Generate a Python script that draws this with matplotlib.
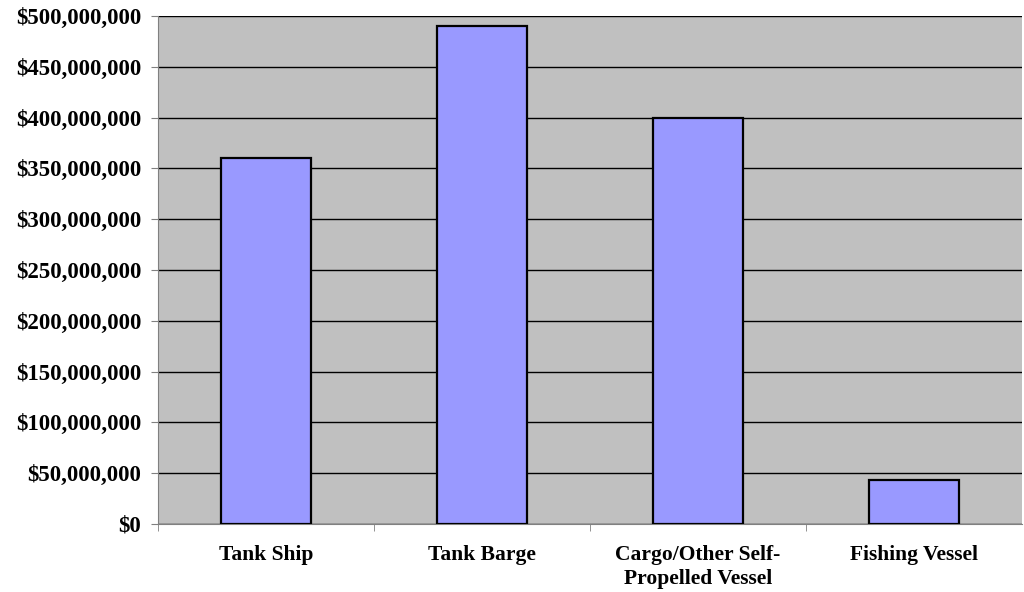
import matplotlib.pyplot as plt
from matplotlib.ticker import FuncFormatter, FixedLocator

# Vessel categories and values (dollars)
categories = ["Tank Ship", "Tank Barge", "Cargo/Other Self-\nPropelled Vessel", "Fishing Vessel"]
values = [360_000_000, 490_000_000, 400_000_000, 43_000_000]

plt.rcParams['font.family'] = ['Liberation Serif', 'DejaVu Serif']
plt.rcParams['font.weight'] = 'bold'

fig = plt.figure(figsize=(10.24, 5.92), dpi=100)
ax = fig.add_axes([0.1543, 0.115, 0.8437, 0.858])
ax.set_facecolor('#C0C0C0')

x = range(len(categories))
ax.bar(x, values, width=0.42, color='#9999FF', edgecolor='black', linewidth=1.6, zorder=3)

ax.set_xlim(-0.5, len(categories) - 0.5)
ax.set_ylim(0, 500_000_000)
ax.set_yticks(range(0, 500_000_001, 50_000_000))
ax.yaxis.set_major_formatter(FuncFormatter(lambda v, p: f"${v:,.0f}"))
ax.grid(axis='y', color='black', linewidth=1, zorder=1)

# category labels centred, ticks at category boundaries
ax.set_xticks(list(x))
ax.set_xticklabels(categories, fontsize=15.5, fontweight='bold', linespacing=1.3)
ax.tick_params(axis='x', length=0, pad=15)
ax.xaxis.set_minor_locator(FixedLocator([i + 0.5 for i in range(-1, len(categories) - 1)]))
ax.tick_params(axis='x', which='minor', length=5, color='#808080')
ax.tick_params(axis='y', labelsize=16.5, length=5, color='#808080', pad=7)
for lbl in ax.get_yticklabels():
    lbl.set_fontweight('bold')

for s in ['top', 'right']:
    ax.spines[s].set_visible(False)
for s in ['left', 'bottom']:
    ax.spines[s].set_color('#808080')

fig.savefig('out.png', dpi=100)
